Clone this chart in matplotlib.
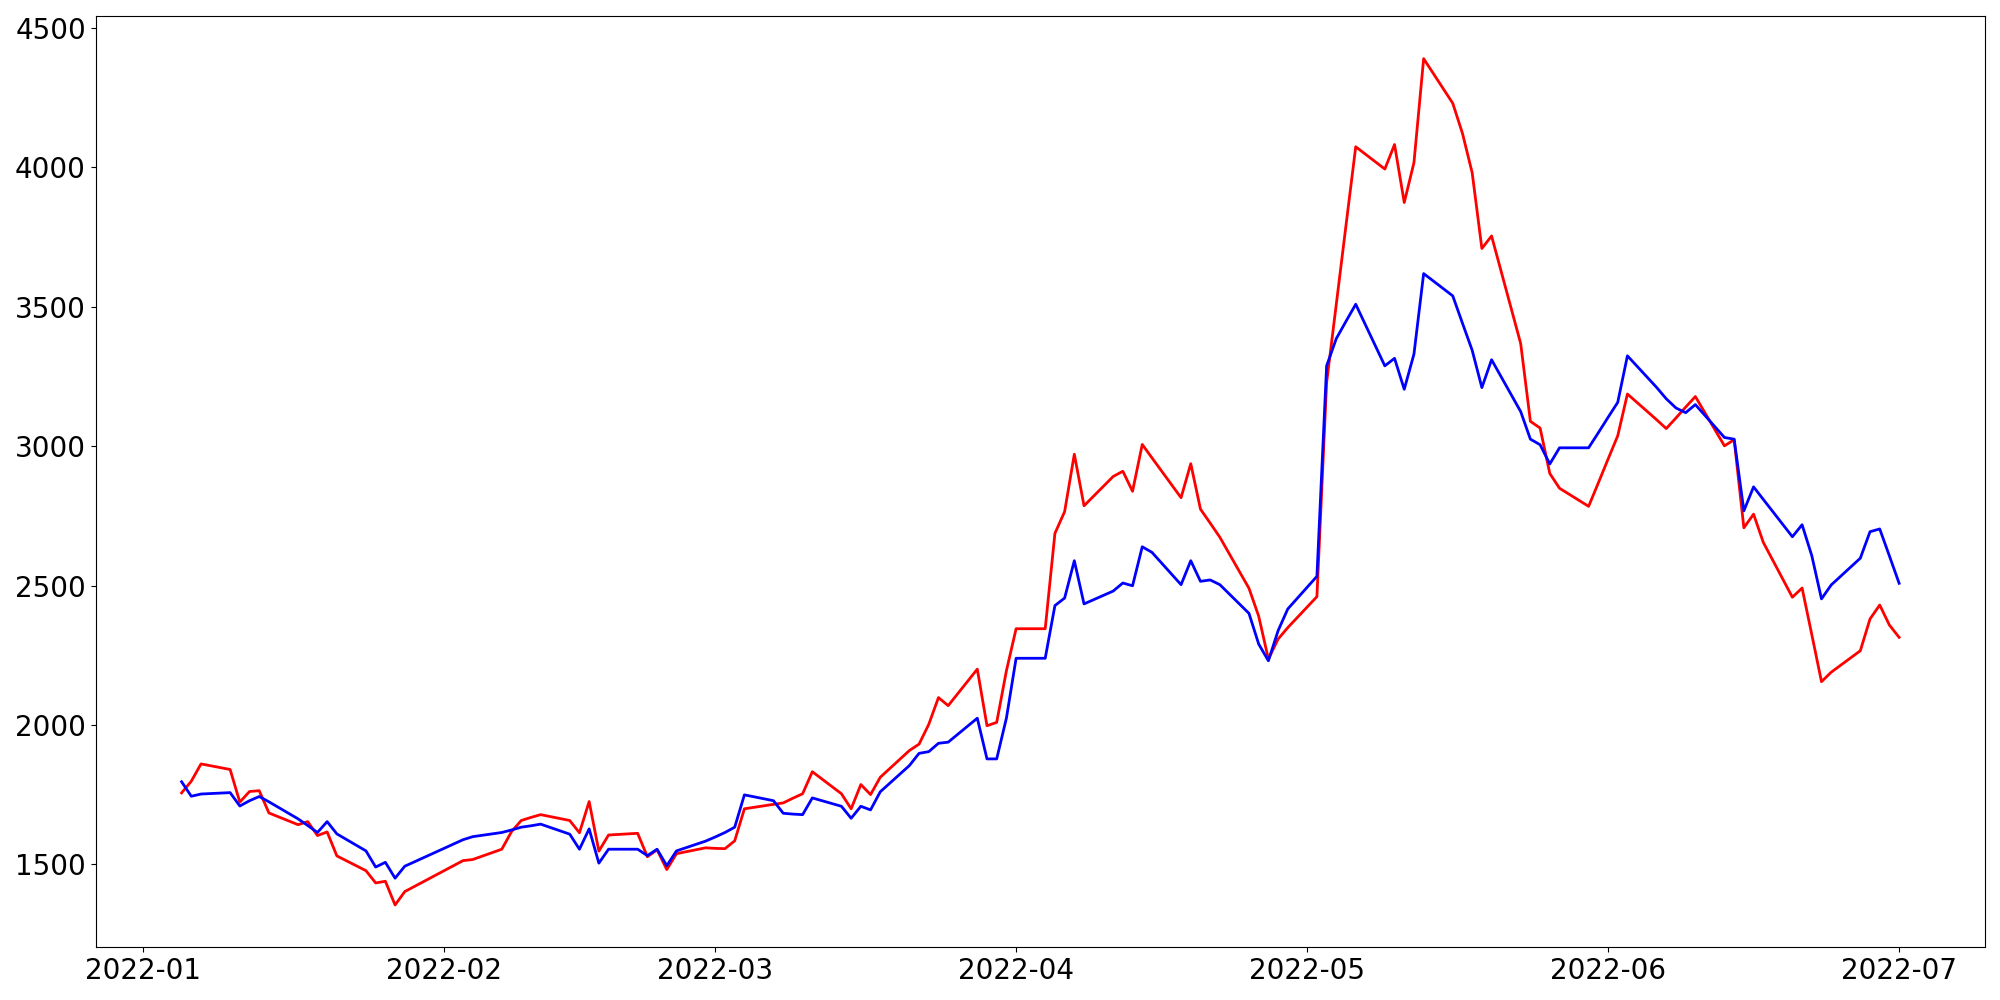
import matplotlib
matplotlib.use("Agg")
import matplotlib.pyplot as plt
import pandas as pd

dates = [
    "2022-01-05", "2022-01-06", "2022-01-07", "2022-01-10", "2022-01-11", "2022-01-12",
    "2022-01-13", "2022-01-14", "2022-01-17", "2022-01-18", "2022-01-19", "2022-01-20",
    "2022-01-21", "2022-01-24", "2022-01-25", "2022-01-26", "2022-01-27", "2022-01-28",
    "2022-02-03", "2022-02-04", "2022-02-07", "2022-02-08", "2022-02-09", "2022-02-10",
    "2022-02-11", "2022-02-14", "2022-02-15", "2022-02-16", "2022-02-17", "2022-02-18",
    "2022-02-21", "2022-02-22", "2022-02-23", "2022-02-24", "2022-02-25", "2022-02-28",
    "2022-03-01", "2022-03-02", "2022-03-03", "2022-03-04", "2022-03-07", "2022-03-08",
    "2022-03-09", "2022-03-10", "2022-03-11", "2022-03-14", "2022-03-15", "2022-03-16",
    "2022-03-17", "2022-03-18", "2022-03-21", "2022-03-22", "2022-03-23", "2022-03-24",
    "2022-03-25", "2022-03-28", "2022-03-29", "2022-03-30", "2022-03-31", "2022-04-01",
    "2022-04-04", "2022-04-05", "2022-04-06", "2022-04-07", "2022-04-08", "2022-04-11",
    "2022-04-12", "2022-04-13", "2022-04-14", "2022-04-15", "2022-04-18", "2022-04-19",
    "2022-04-20", "2022-04-21", "2022-04-22", "2022-04-25", "2022-04-26", "2022-04-27",
    "2022-04-28", "2022-04-29", "2022-05-02", "2022-05-03", "2022-05-04", "2022-05-05",
    "2022-05-06", "2022-05-09", "2022-05-10", "2022-05-11", "2022-05-12", "2022-05-13",
    "2022-05-16", "2022-05-17", "2022-05-18", "2022-05-19", "2022-05-20", "2022-05-23",
    "2022-05-24", "2022-05-25", "2022-05-26", "2022-05-27", "2022-05-30", "2022-05-31",
    "2022-06-01", "2022-06-02", "2022-06-03", "2022-06-06", "2022-06-07", "2022-06-08",
    "2022-06-09", "2022-06-10", "2022-06-13", "2022-06-14", "2022-06-15", "2022-06-16",
    "2022-06-17", "2022-06-20", "2022-06-21", "2022-06-22", "2022-06-23", "2022-06-24",
    "2022-06-27", "2022-06-28", "2022-06-29", "2022-06-30", "2022-07-01",
]

red_values = [
    1756, 1798, 1860, 1840, 1723, 1761,
    1764, 1684, 1642, 1653, 1603, 1616,
    1530, 1477, 1433, 1439, 1354, 1402,
    1513, 1517, 1554, 1617, 1657, 1668,
    1678, 1657, 1613, 1725, 1547, 1605,
    1611, 1527, 1552, 1481, 1538, 1559,
    1557, 1556, 1584, 1699, 1715, 1720,
    1737, 1753, 1832, 1753, 1699, 1786,
    1750, 1812, 1908, 1931, 2002, 2098,
    2069, 2200, 1997, 2009, 2194, 2345,
    2345, 2687, 2765, 2971, 2786, 2891,
    2910, 2838, 3006, 2958, 2815, 2937,
    2774, 2724, 2673, 2490, 2390, 2236,
    2308, 2349, 2460, 3228, 3510, 3793,
    4074, 3994, 4082, 3874, 4017, 4390,
    4230, 4122, 3981, 3709, 3754, 3368,
    3089, 3065, 2902, 2849, 2784, 2868,
    2953, 3037, 3187, 3095, 3063, 3101,
    3140, 3178, 3001, 3023, 2707, 2756,
    2655, 2458, 2491, 2324, 2155, 2189,
    2266, 2380, 2430, 2358, 2314,
]

blue_values = [
    1796, 1744, 1752, 1757, 1709, 1728,
    1743, 1724, 1663, 1639, 1614, 1653,
    1609, 1548, 1490, 1507, 1450, 1493,
    1588, 1599, 1614, 1623, 1633, 1638,
    1644, 1608, 1554, 1627, 1504, 1554,
    1554, 1531, 1554, 1495, 1548, 1583,
    1598, 1614, 1633, 1749, 1728, 1683,
    1680, 1678, 1738, 1708, 1665, 1708,
    1695, 1760, 1854, 1898, 1904, 1934,
    1938, 2024, 1878, 1878, 2024, 2239,
    2239, 2428, 2455, 2589, 2434, 2480,
    2509, 2499, 2639, 2619, 2503, 2589,
    2515, 2520, 2503, 2400, 2290, 2230,
    2338, 2416, 2533, 3288, 3386, 3448,
    3509, 3288, 3315, 3204, 3330, 3619,
    3539, 3441, 3344, 3210, 3310, 3124,
    3025, 3005, 2936, 2994, 2994, 3048,
    3103, 3157, 3324, 3211, 3170, 3137,
    3120, 3149, 3031, 3025, 2768, 2854,
    2809, 2675, 2718, 2607, 2452, 2502,
    2598, 2693, 2703, 2606, 2508,
]

x = pd.to_datetime(dates)

fig, ax = plt.subplots(figsize=(20, 10), dpi=100)
ax.plot(x, red_values, color="red", linewidth=2)
ax.plot(x, blue_values, color="blue", linewidth=2)
ax.tick_params(axis="both", labelsize=20)
fig.tight_layout()
fig.savefig("out.png", dpi=100)
